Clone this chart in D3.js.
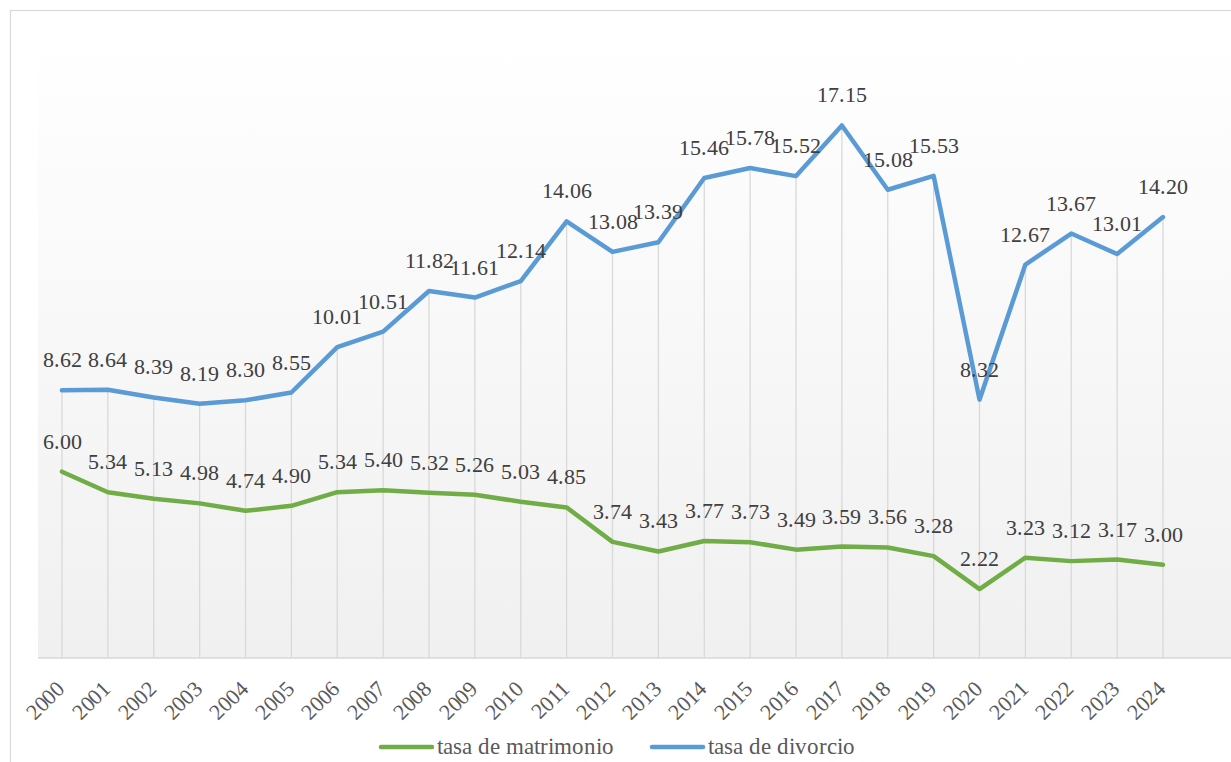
<!DOCTYPE html>
<html>
<head>
	<meta charset="UTF-8">
	<script src="https://d3js.org/d3.v7.min.js"></script>
	<style>
		@font-face { font-family: "ChartSerif"; src: local("Liberation Serif"), local("LiberationSerif"), local("Liberation Serif Regular"), local("LiberationSerif-Regular"); }
		svg text { font-family: "ChartSerif", "Liberation Serif", "Tinos", "Times New Roman", serif; }
	</style>
</head>
<body style="margin:0">
	<svg width="1231" height="762"></svg>

	<script>
		// data
		var years = ["2000","2001","2002","2003","2004","2005","2006","2007","2008","2009","2010","2011","2012",
			"2013","2014","2015","2016","2017","2018","2019","2020","2021","2022","2023","2024"];
		var matrimonio = [6.00, 5.34, 5.13, 4.98, 4.74, 4.90, 5.34, 5.40, 5.32, 5.26, 5.03, 4.85, 3.74,
			3.43, 3.77, 3.73, 3.49, 3.59, 3.56, 3.28, 2.22, 3.23, 3.12, 3.17, 3.00];
		var divorcio = [8.62, 8.64, 8.39, 8.19, 8.30, 8.55, 10.01, 10.51, 11.82, 11.61, 12.14, 14.06, 13.08,
			13.39, 15.46, 15.78, 15.52, 17.15, 15.08, 15.53, 8.32, 12.67, 13.67, 13.01, 14.20];
		var seriesNames = ["tasa de matrimonio", "tasa de divorcio"];
		var seriesColors = ["#70ad47", "#5b9bd5"];

		var svg = d3.select("svg");

		// outer chart border (cut off at right/bottom)
		svg.append("rect")
			.attr("x", 10.5).attr("y", 10.5)
			.attr("width", 1260).attr("height", 800)
			.attr("fill", "#fff")
			.attr("stroke", "#d9d9d9")
			.attr("stroke-width", 1.2);

		var plot = {left: 38, right: 1231, top: 37, bottom: 658};

		var x = d3.scalePoint()
			.domain(years)
			.range([62, 1163]);

		var y = d3.scaleLinear()
			.domain([0, 20])
			.range([plot.bottom, plot.top]);

		// plot area gradient
		var grad = svg.append("defs").append("linearGradient")
			.attr("id", "bg").attr("x1", 0).attr("y1", 0).attr("x2", 0).attr("y2", 1);
		grad.append("stop").attr("offset", "0%").attr("stop-color", "#ffffff");
		grad.append("stop").attr("offset", "100%").attr("stop-color", "#f0f0f0");

		svg.append("rect")
			.attr("x", plot.left).attr("y", plot.top)
			.attr("width", plot.right - plot.left)
			.attr("height", plot.bottom - plot.top)
			.attr("fill", "url(#bg)");

		// drop lines from the higher point down to the axis
		svg.append("g").selectAll("line")
			.data(years)
			.enter().append("line")
			.attr("x1", function(d){ return x(d); })
			.attr("x2", function(d){ return x(d); })
			.attr("y1", function(d, i){ return y(Math.max(matrimonio[i], divorcio[i])); })
			.attr("y2", y(0))
			.attr("stroke", "#d9d9d9")
			.attr("stroke-width", 1.3);

		// x axis line
		svg.append("line")
			.attr("x1", plot.left).attr("x2", plot.right)
			.attr("y1", y(0)).attr("y2", y(0))
			.attr("stroke", "#d9d9d9")
			.attr("stroke-width", 1.5);

		// x labels
		svg.append("g").selectAll("text")
			.data(years)
			.enter().append("text")
			.attr("transform", function(d){ return "translate(" + (x(d) + 4) + "," + 690 + ") rotate(-45)"; })
			.attr("text-anchor", "end")
			.style("fill", "#595959")
			.style("font-size", "22px")
			.text(function(d){ return d; });

		// lines + labels
		var line = d3.line()
			.x(function(d, i){ return x(years[i]); })
			.y(function(d){ return y(d); });

		[matrimonio, divorcio].forEach(function(vals, k){
			svg.append("path")
				.datum(vals)
				.attr("d", line)
				.attr("fill", "none")
				.attr("stroke", seriesColors[k])
				.attr("stroke-width", 4.5)
				.attr("stroke-linejoin", "round")
				.attr("stroke-linecap", "round");

			svg.append("g").selectAll("text")
				.data(vals)
				.enter().append("text")
				.attr("x", function(d, i){ return x(years[i]); })
				.attr("y", function(d){ return y(d) - 23; })
				.attr("text-anchor", "middle")
				.style("fill", "#404040")
				.style("font-size", "22px")
				.text(function(d){ return d.toFixed(2); });
		});

		// legend
		var legendX = [381, 652];
		var legend = svg.selectAll(".legend")
			.data(seriesNames)
			.enter().append("g")
			.attr("class", "legend")
			.attr("transform", function(d, i){ return "translate(" + legendX[i] + ",747)"; });

		legend.append("line")
			.attr("x1", 0).attr("x2", 51)
			.attr("y1", 0).attr("y2", 0)
			.attr("stroke", function(d, i){ return seriesColors[i]; })
			.attr("stroke-width", 4.5)
			.attr("stroke-linecap", "round");

		legend.append("text")
			.attr("x", 56)
			.attr("y", 7)
			.style("fill", "#595959")
			.style("font-size", "22.5px")
			.text(function(d){ return d; });
	</script>
</body>
</html>
